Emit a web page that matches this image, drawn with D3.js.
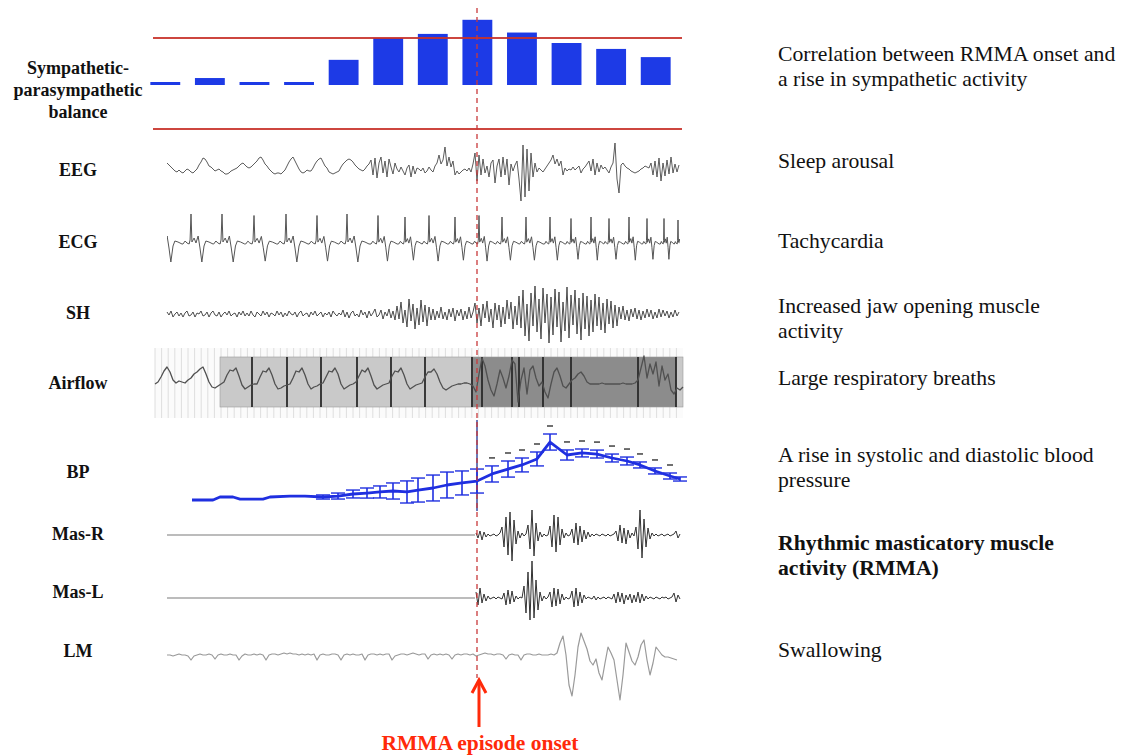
<!DOCTYPE html>
<html><head><meta charset="utf-8">
<script src="https://cdn.jsdelivr.net/npm/d3@7"></script>
<style>body{margin:0;background:#fff}</style>
</head><body><svg id="c" width="1131" height="755"></svg>
<script>
// ---------------- DATA (time unit: 0.1 s, onset = 0) ----------------
const balanceEpochs = ['E1','E2','E3','E4','E5','E6','E7','E8','E9','E10','E11','E12'];
const balanceValues = [0.02,0.12,0.02,0.02,0.52,1.0,1.09,1.4,1.12,0.89,0.76,0.58];
const balanceLimits = [1,-1];

const eegStart = -310, eegStep = 2;
const eegValues = [
 6,4,2,0,-2,-3,-1,-3,-4,-2, 0,-1,-3,-4,-2,0,4,7,11,10, 7,3,2,0,-2,-1,0,-2,-3,-5,
 -5,-4,-2,-1,0,1,3,5,6,4, 2,1,2,4,6,8,11,12,9,5, 3,0,-2,-4,-5,-4,-4,-5,-3,-1,
 3,7,10,12,8,4,0,-3,-4,-3, -1,-2,-2,1,5,8,10,11,7,3, 1,-3,-4,-5,-4,-3,-2,2,5,7,
 9,10,9,7,4,2,0,-1,-2,0, 3,5,
 9,-6,11,-9,6,12,-4,8,-8,10,2,-5,6,
 0,-3,2,-2,-6,1,4,-8,3,-5,1,0,-2,1,-4,-2,2,-1,-3,3,
 6,14,5,9,22,3,12,2,8,-6,-2,-5,-3,-1,0,-2,1,-3,5,16,
 -12,14,-6,10,-4,3,-8,6,9,-14,3,10,-8,12,-6,10,-16,5,-2,4,
 8,-10,-32,24,-28,20,-22,16,-8,6,-3,1,-1,-3,0,3,6,9,14,5,
 10,3,8,-6,1,-2,0,-1,2,-1,1,3,-4,0,2,5,8,-2,10,-6,
 6,-3,4,0,2,-1,-4,2,6,26,-10,-24,4,6,3,1,0,-2,-3,-4,
 -3,-2,0,1,3,2,1,6,-6,8,-8,11,-12,6,-7,9,-5,12,-4,5,-3,4];

const ecgBeatTimes = [-317,-286,-255,-223,-191,-160,-130,-99,-72,-48,-22,2,25,49,73,94,114,132,152,170,187,201,215];
const ecgBeatAmp = [1,1,1,0.95,1,0.95,1,0.95,0.9,0.95,0.9,0.95,0.9,0.9,0.9,0.85,0.9,0.85,0.9,0.85,0.85,0.8,0.8];
const ecgTemplatePhase = [-0.26,-0.19,-0.13,-0.06,-0.03,0,0.03,0.1,0.16,0.23,0.29,0.35,0.42,0.48,0.58,0.71];
const ecgTemplateValue = [0,3,1,0,4,30,2,6,1,8,-4,-18,-2,3,2,0];

const shStart = -310, shStep = 2;
const shValues = [
 2,-1,3,-3,0,2,-2,1,-3,1, 3,-2,-1,2,-3,1,0,3,-2,-1, 2,-3,1,3,-1,-2,2,-3,0,2,
 -1,3,-2,0,1,-3,2,-1,3,-2, 1,-2,3,-1,-3,2,0,-2,3,-1, 2,-3,1,0,-2,3,-1,2,-3,1,
 -2,3,0,-1,2,-3,1,3,-2,0, 1,-3,2,-1,3,-2,0,2,-3,1, -1,2,-3,3,0,-2,1,-1,4,-3,
 2,-4,1,3,-2,0,-3,4,-1,2, -4,3,-2,1,5,-3,-1,4,-5,2, -2,5,-4,3,-6,
 8,-5,12,-9,4,-13,15,-7,10,-15,6,-11,14,-8,9,-12,7,-6,
 5,-6,3,-4,7,-5,2,-6,5,-3,6,-7,4,-2,5,-6,3,-5,7,-4,2,
 11,
 -9,6,-12,10,-4,13,-8,5,-14,11,-6,9,-13,7,-10,14,-5,12,-15,8,-11,
 18,-14,24,-22,10,-27,21,-12,28,-18, 15,-25,26,-9,20,-29,17,-21,25,-13,
 22,-28,12,-17,27,-24,19,-11,24,-20, 16,-26,21,-15,18,-22,14,-18,20,-12,
 17,-16,11,-19,15,-10,13,-14,9,-12,
 7,-5,8,-6,4,-7,5,-3,6,-5, 4,-6,3,-4,5,-3,4,-5,2,-4, 5,-3,4,-2,3,-4,2,-3,4,-2, 2];

const airStart = -322, airStep = 3;
const airValues = [0,2,7,13,17,12,4,1,3,2, 1,4,6,10,12,15,17,10,2,-3, -4,-2,0,2,9,14,13,16,8,-1,
 -5,-3,-1,0,0,7,13,12,16,9, 0,-5,-4,-2,-1,0,6,13,12,16, 9,0,-5,-3,-2,0,1,7,13,12,
 16,10,0,-5,-3,-1,0,2,8,14, 12,16,8,-1,-5,-3,-1,0,1,8, 13,12,16,9,0,-5,-3,-1,0,1,
 7,12,12,15,10,2,-4,-6,-4,-2, -1,0,0,1,1,0,-2,-8,10,26, 18,4,-6,-12,0,14,6,-4,8,24,
 20,-18,4,16,-10,14,18,6,-2,2, -8,-14,0,12,16,8,-2,-4,0,4, 6,10,12,8,2,0,0,0,0,1,
 0,0,0,0,0,0,1,0,0,0, 1,4,16,28,6,20,10,22,-2,18, 4,10,-6,-10,-4,-6,-3];
const airPanel = [-322, 206];
const airEpochLight = [-257, -5];
const airEpochDark = [-5, 199];
const airEpochLight2 = [199, 206];
const airBreathMarks = [-225,-190,-156,-120,-86,-52,-5,5,35,42,66,94,161,199];

const bpTime = [-285,-264,-257,-244,-237,-214,-207,-187,-172,
 -154,-139,-124,-110,-97,-84,-70,-59,-44,-30,-15,0,15,31,45,60,73,90,105,120,135,150,163,178,193,203];
const bpMean = [95,95,97.5,97.5,95.8,95.8,97.5,98.3,98.3,
 97.5,98.3,100,100.8,101.7,102.5,101.7,103.3,105,107.5,109.2,110.8,116.7,120.8,124.2,129.2,143.3,132.5,134.2,133.3,130,127.5,124.2,119.2,115,112.5];
const bpErr = [0,0,0,0,0,0,0,0,0,
 1.7,2.5,3.3,4.2,5,6.7,9.2,10,10.8,10.8,10,10,6.7,6.7,5.8,5.8,6.7,4.2,3.3,3.3,3.3,3.3,2.5,2.5,2.5,1.7];
const bpSig = [0,0,0,0,0,0,0,0,0, 0,0,0,0,0,0,0,0,0,0,0,0,1,1,1,1,1,1,1,1,1,1,1,1,1,0];

const masBaseline = [[-310,0],[-2,0]];
const masStart = -1, masStep = 2;
const masRValues = [2,-3,4,-5,3,-2,1,-1, 0,1,-1,0,2, 8,-12,18,-20,23,-26,15,-9, 4,-3,2,-1,1,
 10,-14,25,-21,12,-6, 3,-2,1,-1,0, 9,-12,20,-17,18,-10,6, -3,2,-1,0, 6,-8,12,-10,9,-7,5,-4,3,
 -2,1,-1,1,0,-1,1,0,-1,1,-1,0,1, 4,-6,10,-8,7,-9,5,-3,2,-1, 8,-14,25,-23,16,-12,7,-4,
 2,-1,1,-1,0,1,-1,0,1,-1,0,1, 4,-3,1];
const masLValues = [6,-7,10,-5,4,-3,2,-1, 0,1,-1,1,0,-1, 5,-7,8,-6,7,-4,2, -1,1,0,
 12,-15,26,-22,37,-20,18,-12,6, -3,2,-1,1, 6,-9,10,-8,9,-6,4,-2, 1,-1,0, 7,-9,10,-8,6,-5,3,
 -1,1,0,-1,2,-2,1,-1,0,1,-1,1,0,-1, 4,-5,6,-4,5,-6,3,-2,4,-5,3, -4,6,-5,4,-3,2,
 -1,1,0,-1,1,0,-1,1,0,1,-1,0,1, 5,-4,3,-1];

const lmStart = -310, lmStep = 3;
const lmValues = [0,0,-1,0,1,0,0,-1,-5,-1, 0,1,0,0,1,0,-4,0,1,0, 0,1,0,0,-5,-1,1,0,0,1,
 0,1,0,-5,0,1,1,0,1,2, 1,2,1,1,0,1,0,1,0,1, -5,0,1,0,0,1,1,0,-5,0,
 1,0,1,0,0,1,-5,0,1,1, 0,1,0,1,1,-5,-1,0,1,1, 0,1,2,1,0,1,1,-4,0,1,
 0,1,0,1,0,-4,0,1,0,1, 1,0,1,-1,0,1,2,1,1,0, 1,1,0,-4,0,1,0,0,-5,0,
 1,1,0,0,1,0,0,0,1,0, 2,12,19,0,-30,-41,-20,8,22,14, 6,-6,-10,-4,-18,-25,-8,8,2,-5,
 -25,-45,-20,12,3,-6,-10,-2,10,15, -5,-20,-8,8,4,0,-2,-2,-3,-4, -5];

const channelNames = ['EEG','ECG','SH','Airflow','BP','Mas-R','Mas-L','LM'];
const balanceLabel = ['Sympathetic-','parasympathetic','balance'];
const findings = [
  {lines:['Correlation between RMMA onset and','a rise in sympathetic activity'], bold:false},
  {lines:['Sleep arousal'], bold:false},
  {lines:['Tachycardia'], bold:false},
  {lines:['Increased jaw opening muscle','activity'], bold:false},
  {lines:['Large respiratory breaths'], bold:false},
  {lines:['A rise in systolic and diastolic blood','pressure'], bold:false},
  {lines:['Rhythmic masticatory muscle','activity (RMMA)'], bold:true},
  {lines:['Swallowing'], bold:false}
];
const onsetLabel = 'RMMA episode onset';

// ---------------- LAYOUT ----------------
const svg = d3.select('#c');
svg.append('rect').attr('width',1131).attr('height',755).attr('fill','#fff');
const x = d3.scaleLinear().domain([-310,203]).range([167,680]);
const chan = cy => d3.scaleLinear().domain([-50,50]).range([cy+50, cy-50]);
const series = (start, step, vals) => vals.map((v,i)=>[start+i*step, v]);
function trace(data, y, color, w, g){
  (g||svg).append('path').datum(data)
    .attr('d', d3.line().x(d=>x(d[0])).y(d=>y(d[1])))
    .attr('fill','none').attr('stroke',color).attr('stroke-width',w)
    .attr('stroke-linejoin','round');
}
const serif = '"Liberation Serif","Times New Roman",serif';

// Sympathetic balance bars
const yBal = d3.scaleLinear().domain([-1,1]).range([129,38]);
const xBal = d3.scaleBand().domain(balanceEpochs).range([x(-334), x(201)]).paddingInner(0.33).paddingOuter(0.165);
const base = yBal(0)+1.5;
svg.append('g').selectAll('rect').data(balanceValues).join('rect')
  .attr('x',(d,i)=>xBal(balanceEpochs[i])).attr('width',xBal.bandwidth())
  .attr('y',d=>Math.min(yBal(d), base-3)).attr('height',d=>Math.max(base-yBal(d),3))
  .attr('fill','#1d3ae6');
svg.append('g').selectAll('line').data(balanceLimits).join('line')
  .attr('x1',x(-324)).attr('x2',x(205)).attr('y1',d=>yBal(d)).attr('y2',d=>yBal(d))
  .attr('stroke','#c8332b').attr('stroke-width',2).attr('opacity',0.9);

// EEG
trace(series(eegStart,eegStep,eegValues), chan(169), '#4a4a4a', 0.9);

// ECG
const ecgPts = [];
ecgBeatTimes.forEach((t,i)=>{
  const rr = i < ecgBeatTimes.length-1 ? ecgBeatTimes[i+1]-t : t-ecgBeatTimes[i-1];
  ecgTemplatePhase.forEach((p,k)=> ecgPts.push([t+p*rr, ecgTemplateValue[k]*ecgBeatAmp[i]]));
});
svg.append('clipPath').attr('id','ecgclip').append('rect').attr('x',x(-310)).attr('y',200).attr('width',x(203)-x(-310)).attr('height',80);
const gEcg = svg.append('g').attr('clip-path','url(#ecgclip)');
trace(ecgPts, chan(244), '#555', 1, gEcg);

// SH
trace(series(shStart,shStep,shValues), chan(314), '#3a3a3a', 0.9);

// Airflow panel
const yAir = chan(384);
const gAir = svg.append('g');
gAir.append('rect').attr('x',x(airPanel[0])).attr('y',348).attr('width',x(airPanel[1])-x(airPanel[0])).attr('height',70).attr('fill','#fbfbfb');
gAir.selectAll('line.grid').data(d3.range(airPanel[0], airPanel[1], 6.6)).join('line')
  .attr('class','grid').attr('x1',d=>x(d)).attr('x2',d=>x(d)).attr('y1',348).attr('y2',418)
  .attr('stroke','#dedede').attr('stroke-width',1);
[[airEpochLight,'#c9c9c9'],[airEpochDark,'#8c8c8c'],[airEpochLight2,'#c9c9c9']].forEach(([e,c])=>{
  gAir.append('rect').attr('x',x(e[0])).attr('y',357).attr('width',x(e[1])-x(e[0])).attr('height',50)
    .attr('fill',c).attr('stroke','#9a9a9a').attr('stroke-width',0.6);
});
gAir.selectAll('line.mark').data(airBreathMarks).join('line')
  .attr('class','mark').attr('x1',d=>x(d)).attr('x2',d=>x(d)).attr('y1',357).attr('y2',407)
  .attr('stroke','#2a2a2a').attr('stroke-width',1.8);
trace(series(airStart,airStep,airValues), yAir, '#505050', 1.3, gAir);

// BP
const yBP = d3.scaleLinear().domain([95,145]).range([500,440]);
const bp = bpTime.map((t,i)=>({t, m:bpMean[i], e:bpErr[i], s:bpSig[i]}));
svg.append('line').attr('x1',x(0)).attr('x2',x(0)).attr('y1',420).attr('y2',511)
  .attr('stroke','#3d4d9e').attr('stroke-width',1.5);
const gBP = svg.append('g');
const eb = bp.filter(d=>d.e>0);
gBP.selectAll('line.v').data(eb).join('line').attr('class','v')
  .attr('x1',d=>x(d.t)).attr('x2',d=>x(d.t)).attr('y1',d=>yBP(d.m-d.e)).attr('y2',d=>yBP(d.m+d.e))
  .attr('stroke','#1f2fe0').attr('stroke-width',1.6);
['+','-'].forEach(sg=>{
  gBP.selectAll('line.c'+(sg==='+'?'p':'m')).data(eb).join('line').attr('class','c'+(sg==='+'?'p':'m'))
    .attr('x1',d=>x(d.t)-7).attr('x2',d=>x(d.t)+7)
    .attr('y1',d=>yBP(sg==='+'?d.m+d.e:d.m-d.e)).attr('y2',d=>yBP(sg==='+'?d.m+d.e:d.m-d.e))
    .attr('stroke','#1f2fe0').attr('stroke-width',1.4);
});
trace(bp.map(d=>[d.t,d.m]), yBP, '#1f2fe0', 2.8, gBP);
gBP.selectAll('line.sig').data(bp.filter(d=>d.s)).join('line').attr('class','sig')
  .attr('x1',d=>x(d.t)-3).attr('x2',d=>x(d.t)+3)
  .attr('y1',d=>yBP(d.m+d.e)-8).attr('y2',d=>yBP(d.m+d.e)-8)
  .attr('stroke','#333').attr('stroke-width',1.4);

// Mas-R, Mas-L
trace(masBaseline, chan(535), '#7a7a7a', 1.1);
trace(series(masStart,masStep,masRValues), chan(535), '#333', 1);
trace(masBaseline, chan(598), '#7a7a7a', 1.1);
trace(series(masStart,masStep,masLValues), chan(598), '#333', 1);

// LM
trace(series(lmStart,lmStep,lmValues), chan(655), '#9a9a9a', 1.2);

// onset dashed line
svg.append('line').attr('x1',x(0)).attr('x2',x(0)).attr('y1',8).attr('y2',678)
  .attr('stroke','#c8393b').attr('stroke-width',1.3).attr('stroke-dasharray','5,4');

// arrow
const ox = x(0)+2;
svg.append('line').attr('x1',ox).attr('x2',ox).attr('y1',727).attr('y2',681)
  .attr('stroke','#ff2a0a').attr('stroke-width',3);
svg.append('polyline').attr('points',`${ox-7},693 ${ox},680 ${ox+7},693`)
  .attr('fill','none').attr('stroke','#ff2a0a').attr('stroke-width',3).attr('stroke-linejoin','miter');
svg.append('text').attr('x',480).attr('y',750).attr('text-anchor','middle')
  .attr('font-family',serif).attr('font-weight','bold').attr('font-size',21.5)
  .attr('fill','#ff2a0a').text(onsetLabel);

// left labels
const leftY = [176,248,319,389,478,540,598,657];
const gl = svg.append('g').attr('font-family',serif).attr('font-weight','bold').attr('font-size',18)
  .attr('text-anchor','middle').attr('fill','#111');
balanceLabel.forEach((s,i)=> gl.append('text').attr('x',78).attr('y',74+i*22).text(s));
channelNames.forEach((s,i)=> gl.append('text').attr('x',78).attr('y',leftY[i]).text(s));

// right labels
const rightY = [61,168,248,313,385,462,550,657];
const gr = svg.append('g').attr('font-family',serif).attr('font-size',21.7).attr('fill','#111');
findings.forEach((f,i)=> f.lines.forEach((s,k)=>
  gr.append('text').attr('x',778).attr('y',rightY[i]+k*25).attr('font-weight',f.bold?'bold':'normal').text(s)));
</script></body></html>
